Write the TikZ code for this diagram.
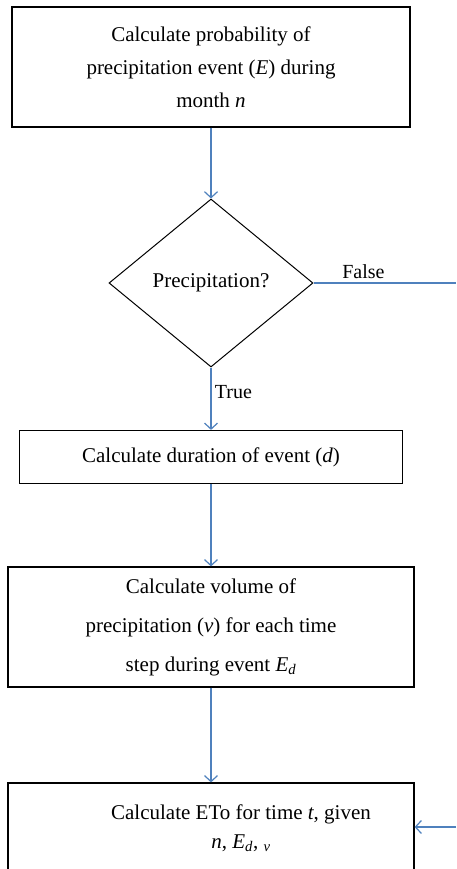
\documentclass[tikz,border=0pt]{standalone}
\usepackage{fontspec}
\setmainfont{Liberation Serif}
\usepackage{tikz}
\usetikzlibrary{arrows.meta}
\usetikzlibrary{shapes.geometric}
\definecolor{flowblue}{HTML}{4F81BD}
\newcommand{\vsub}[1]{\textsubscript{\textit{#1}}}
\tikzset{stepbox/.style={rectangle, draw=black, line width=1.2pt, inner sep=0pt},
	decision/.style={diamond, draw=black, line width=1pt, inner sep=0pt,
		minimum width=204pt, minimum height=168pt},
	boxfont/.style={font=\fontsize{21}{33}\selectfont, align=center}}
\begin{document}
\begin{tikzpicture}[x=1pt, y=-1pt]
		\useasboundingbox (0,0) rectangle (456,869);
		\clip (0,0) rectangle (456,869);
		\begin{scope}[every node/.style={stepbox, boxfont}]
			\node[minimum width=398pt, minimum height=120pt](prob) at (211, 67)
				{Calculate probability of\\ precipitation event (\textit{E}) during\\ month \textit{n}};
			\node[decision](dec) at (211, 283) {\raisebox{-4pt}{Precipitation?}};
			\node[minimum width=383pt, minimum height=53pt](dur) at (211, 457)
				{Calculate duration of event (\textit{d})};
			\node[minimum width=406pt, minimum height=120pt,
				font=\fontsize{21}{39}\selectfont](vol) at (211, 627)
				{Calculate volume of\\ precipitation (\textit{v}) for each time\\ step during event \textit{E}\vsub{d}};
			\node[minimum width=406pt, minimum height=122pt](eto) at (211, 844) {};
		\end{scope}
		\node[boxfont, font=\fontsize{21}{29}\selectfont](etotext) at (241, 828)
			{Calculate ETo for time \textit{t}, given\\ \textit{n}, \textit{E}\vsub{d}, \vsub{v}};
		\coordinate (falseend) at (456, 283);
		\coordinate (loopin) at (456, 827);
		\begin{scope}[>={Straight Barb[length=6pt, width=13pt]},
			every edge/.style={draw=flowblue, line width=1.2pt}]
			\path [->] (prob) edge (dec);
			\path [-] (dec) edge node[pos=0.35, above, font=\fontsize{20}{24}\selectfont] {False} (falseend);
			\path [->] (dec) edge node[pos=0.4, right, font=\fontsize{20}{24}\selectfont] {True} (dur);
			\path [->] (dur) edge (vol);
			\path [->] (vol) edge (eto);
			\path [->] (loopin) edge (eto.east |- loopin);
		\end{scope}
	\end{tikzpicture}
\end{document}
